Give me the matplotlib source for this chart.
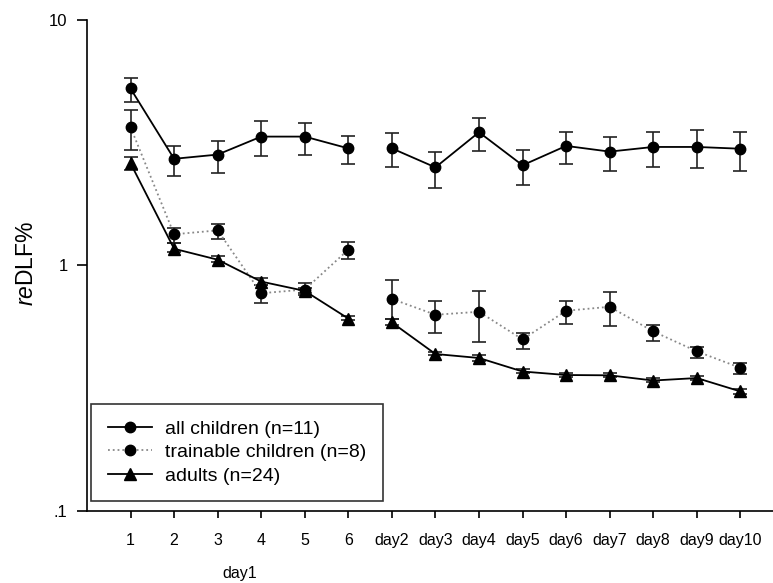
import numpy as np
import matplotlib.pyplot as plt
from matplotlib import transforms

plt.rcParams['font.family'] = ['Liberation Sans', 'DejaVu Sans']
plt.rcParams['mathtext.fontset'] = 'custom'
plt.rcParams['mathtext.rm'] = 'Liberation Sans'
plt.rcParams['mathtext.it'] = 'Liberation Sans:italic'

# categories (first block = day1 sessions, then days)
labels = ['1', '2', '3', '4', '5', '6',
          'day2', 'day3', 'day4', 'day5', 'day6', 'day7', 'day8', 'day9', 'day10']

# all children (n=11): mean, upper and lower error bar ends
all_mean = [5.26, 2.72, 2.83, 3.35, 3.35, 3.00,
            3.00, 2.51, 3.49, 2.56, 3.07, 2.91, 3.04, 3.04, 2.99]
all_hi = [5.82, 3.07, 3.21, 3.87, 3.82, 3.37,
          3.46, 2.91, 3.98, 2.95, 3.50, 3.35, 3.51, 3.55, 3.49]
all_lo = [4.62, 2.32, 2.37, 2.79, 2.82, 2.60,
          2.52, 2.07, 2.94, 2.13, 2.58, 2.42, 2.52, 2.49, 2.43]

# trainable children (n=8)
tr_mean = [3.66, 1.34, 1.39, 0.771, 0.798, 1.16,
           0.731, 0.630, 0.648, 0.500, 0.654, 0.679, 0.539, 0.447, 0.383]
tr_hi = [4.29, 1.42, 1.47, 0.831, 0.851, 1.245,
         0.874, 0.718, 0.788, 0.529, 0.716, 0.781, 0.574, 0.467, 0.401]
tr_lo = [2.95, 1.24, 1.28, 0.703, 0.76, 1.06,
         0.603, 0.529, 0.486, 0.458, 0.579, 0.568, 0.491, 0.419, 0.362]

# adults (n=24)
ad_mean = [2.61, 1.17, 1.056, 0.86, 0.788, 0.608,
           0.586, 0.436, 0.420, 0.370, 0.358, 0.357, 0.340, 0.348, 0.307]
ad_hi = [2.76, 1.23, 1.09, 0.892, 0.81, 0.62,
         0.605, 0.446, 0.430, 0.378, 0.366, 0.365, 0.348, 0.356, 0.314]
ad_lo = [2.46, 1.13, 1.03, 0.83, 0.77, 0.60,
         0.57, 0.43, 0.41, 0.365, 0.352, 0.350, 0.334, 0.341, 0.300]

x = np.arange(1, len(labels) + 1)

fig = plt.figure(figsize=(7.73, 5.83), dpi=100)
ax = fig.add_axes([0.1125, 0.1235, 0.8875, 0.8422])


def draw(mean, hi, lo, marker, ls, color, ms, label):
    mean = np.array(mean)
    yerr = [mean - np.array(lo), np.array(hi) - mean]
    ax.errorbar(x, mean, yerr=yerr, fmt='none', ecolor='#222222',
                elinewidth=1.2, capsize=5, capthick=1.2, zorder=2)
    # line breaks between session 6 and day2
    for seg in (slice(0, 6), slice(6, len(x))):
        ax.plot(x[seg], mean[seg], linestyle=ls, color=color, lw=1.3, zorder=3)
    ax.plot(x, mean, linestyle='none', marker=marker, color='black',
            markersize=ms, zorder=4)
    ax.plot([], [], linestyle=ls, color=color, lw=1.3, marker=marker,
            markerfacecolor='black', markeredgecolor='black', markersize=ms,
            label=label)


draw(all_mean, all_hi, all_lo, 'o', '-', 'black', 7.5, 'all children (n=11)')
draw(tr_mean, tr_hi, tr_lo, 'o', ':', '#888888', 7.5, 'trainable children (n=8)')
draw(ad_mean, ad_hi, ad_lo, '^', '-', 'black', 8, 'adults (n=24)')

ax.set_yscale('log')
ax.set_ylim(0.1, 10)
ax.set_xlim(0, 15.75)
ax.set_yticks([0.1, 1, 10])
ax.set_yticklabels(['.1', '1', '10'])
ax.yaxis.set_minor_locator(plt.NullLocator())
ax.set_xticks(x)
ax.set_xticklabels(labels)

for s in ('top', 'right'):
    ax.spines[s].set_visible(False)
for s in ('left', 'bottom'):
    ax.spines[s].set_linewidth(1.2)

ax.tick_params(axis='y', length=7, width=1.2, pad=7, labelsize=12)
ax.tick_params(axis='x', length=5, width=1.2, pad=11, labelsize=11.5)

ax.set_ylabel(r'$\mathit{re}$' + 'DLF%', fontsize=16.5)
ax.yaxis.set_label_coords(-0.072, 0.505)

trans = transforms.blended_transform_factory(ax.transData, ax.transAxes)
ax.text(3.5, -0.128, 'day1', transform=trans, ha='center', va='center',
        fontsize=11.5)

leg = ax.legend(loc='lower left', bbox_to_anchor=(0.006, 0.02), fontsize=14,
                frameon=True, fancybox=False, edgecolor='black',
                handlelength=2.3, labelspacing=0.3, borderpad=0.85,
                handletextpad=0.65, borderaxespad=0)
leg.get_frame().set_linewidth(1.2)

fig.savefig('out.png', dpi=100)
